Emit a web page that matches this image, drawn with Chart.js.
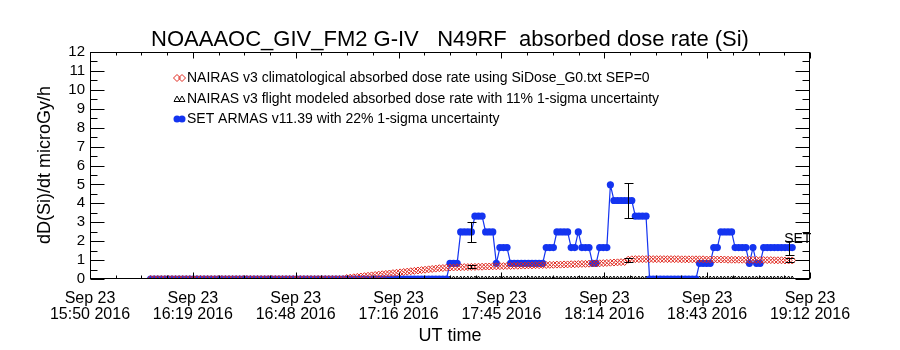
<!DOCTYPE html>
<html>
<head>
<meta charset="utf-8">
<script src="https://cdn.jsdelivr.net/npm/chart.js@4.4.1/dist/chart.umd.min.js"></script>
<style>html,body{margin:0;padding:0;background:#fff}</style>
</head>
<body>
<canvas id="c" width="900" height="350"></canvas>
<script>
const TITLE = 'NOAAAOC_GIV_FM2 G-IV   N49RF  absorbed dose rate (Si)';
const Y_TITLE = 'dD(Si)/dt microGy/h';
const X_TITLE = 'UT time';
const xTickLabels = [
  ['Sep 23','15:50 2016'], ['Sep 23','16:19 2016'], ['Sep 23','16:48 2016'], ['Sep 23','17:16 2016'],
  ['Sep 23','17:45 2016'], ['Sep 23','18:14 2016'], ['Sep 23','18:43 2016'], ['Sep 23','19:12 2016']
];
const X_SPAN = 202;      // minutes, 15:50 -> 19:12
const START_MIN = 17;    // first sample (minutes after 15:50), one sample per minute
const legendTexts = [
  'NAIRAS v3 climatological absorbed dose rate using SiDose_G0.txt SEP=0',
  'NAIRAS v3 flight modeled absorbed dose rate with 11% 1-sigma uncertainty',
  'SET ARMAS v11.39 with 22% 1-sigma uncertainty'
];

// NAIRAS climatological (microGy/h)
const climatological = [
  0,0,0,0,0,0,0,0,0,0, 0,0,0,0,0,0,0,0,0,0,
  0,0,0,0,0,0,0,0,0,0, 0,0,0,0,0,0,0,0,0,0,
  0,0,0,0,0,0,0,0,0,0, 0,0,0,0,0,0.05,
  0.07,0.09,0.11,0.13,0.15,0.17,0.19,0.21,
  0.23,0.25,0.27,0.29,0.31,0.33,0.35,0.37,0.39,0.41,
  0.43,0.45,0.47,0.49,0.51,0.53,0.55,0.57,0.58,0.60,
  0.61,0.61,0.62,0.62,0.63,0.63,0.64,0.64,0.65,0.65,
  0.66,0.66,0.67,0.67,0.68,0.68,0.69,0.69,0.70,0.70,
  0.71,0.71,0.72,0.72,0.73,0.73,0.74,0.74,0.75,0.75,
  0.76,0.76,0.77,0.77,0.78,0.78,0.79,0.80,0.80,0.81,
  0.82,0.82,0.83,0.84,0.85,0.86,0.87,0.88,0.89,0.90,
  1.02,1.04,1.05,1.05,1.05,1.05,1.05,1.05,1.05,1.05,
  1.05,1.05,1.05,1.05,1.05,1.04,1.04,1.04,1.04,1.04,
  1.04,1.04,1.03,1.03,1.03,1.03,1.03,1.03,1.02,1.02,
  1.02,1.02,1.02,1.01,1.01,1.01,1.01,1.00,1.00,1.00,
  1.00,0.99,0.99,0.99,0.98,0.98,0.98
];

// SET ARMAS measured (microGy/h)
const setArmas = [
  0,0,0,0,0,0,0,0,0,0, 0,0,0,0,0,0,0,0,0,0,
  0,0,0,0,0,0,0,0,0,0, 0,0,0,0,0,0,0,0,0,0,
  0,0,0,0,0,0,0,0,0,0, 0,0,0,0,0,0,0,0,0,0,
  0,0,0,0,0,0,0,0,0,0, 0,0,0,0,0,0,0,0,0,0,
  0,0,0,0,
  0.83,0.83,0.83, 2.49,2.49,2.49,2.49, 3.32,3.32,3.32, 2.49,2.49,2.49, 0.83,
  1.66,1.66,1.66, 0.83,0.83,0.83,0.83,0.83,0.83,0.83,0.83,0.83,0.83,
  1.66,1.66,1.66, 2.49,2.49,2.49,2.49, 1.66,1.66, 2.49, 1.66,1.66,1.66,
  0.83,0.83, 1.66,1.66,1.66, 4.98, 4.15,4.15,4.15,4.15,4.15,4.15, 3.32,3.32,3.32,3.32,
  0,0,0,0,0,0,0,0,0,0,0,0,0,0,
  0.83,0.83,0.83,0.83, 1.66,1.66, 2.49,2.49,2.49,2.49, 1.66,1.66,1.66,1.66,
  0.83, 1.66, 0.83,0.83, 1.66,1.66,1.66,1.66,1.66,1.66,1.66,1.66,1.66
];

// NAIRAS flight modeled along track (not computed -> 0)
const flightModeled = [
  0,0,0,0,0,0,0,0,0,0, 0,0,0,0,0,0,0,0,0,0,
  0,0,0,0,0,0,0,0,0,0, 0,0,0,0,0,0,0,0,0,0,
  0,0,0,0,0,0,0,0,0,0, 0,0,0,0,0,0,0,0,0,0,
  0,0,0,0,0,0,0,0,0,0, 0,0,0,0,0,0,0,0,0,0,
  0,0,0,0,0,0,0,0,0,0, 0,0,0,0,0,0,0,0,0,0,
  0,0,0,0,0,0,0,0,0,0, 0,0,0,0,0,0,0,0,0,0,
  0,0,0,0,0,0,0,0,0,0, 0,0,0,0,0,0,0,0,0,0,
  0,0,0,0,0,0,0,0,0,0, 0,0,0,0,0,0,0,0,0,0,
  0,0,0,0,0,0,0,0,0,0, 0,0,0,0,0,0,0,0,0,0,
  0
];

// points with uncertainty bars
const errMinutes  = [107, 151, 196];
const setAtErr    = [2.49, 4.15, 1.66];
const flightAtErr = [0.68, 1.00, 1.00];
const SET_SIGMA = 0.22, FLIGHT_SIGMA = 0.11;

const minutes = setArmas.map((_, i) => START_MIN + i);
const FONT = '"Liberation Sans", Arial, sans-serif';
const RED = '#e0281e', BLUE = '#1434f0';

const idlFrame = {
  id: 'idlFrame',
  afterDatasetsDraw(chart){
    const {ctx, chartArea:a, scales:{x, y}} = chart;
    ctx.save();
    ctx.strokeStyle = '#000'; ctx.lineWidth = 1;
    // error bars
    const bar = (m, v, s) => {
      const px = Math.round(x.getPixelForValue(m)) + 0.5;
      const t = Math.round(y.getPixelForValue(v*(1+s))) + 0.5;
      const b = Math.round(y.getPixelForValue(v*(1-s))) + 0.5;
      ctx.beginPath();
      ctx.moveTo(px, t); ctx.lineTo(px, b);
      ctx.moveTo(px-4, t); ctx.lineTo(px+5, t);
      ctx.moveTo(px-4, b); ctx.lineTo(px+5, b);
      ctx.stroke();
    };
    errMinutes.forEach((m, i) => { bar(m, setAtErr[i], SET_SIGMA); bar(m, flightAtErr[i], FLIGHT_SIGMA); });
    // SET label near last point
    const lm = minutes[minutes.length-1], lv = setArmas[setArmas.length-1];
    ctx.fillStyle = '#000'; ctx.font = '14px ' + FONT; ctx.textBaseline = 'alphabetic';
    ctx.fillText('SET', x.getPixelForValue(lm) - 8, y.getPixelForValue(lv) - 5);
    // frame
    const L = a.left + 0.5, R = a.right - 0.5, T = a.top + 0.5, B = a.bottom - 0.5;
    ctx.strokeRect(L, T, R - L, B - T);
    ctx.beginPath();
    for (let v = 0; v <= 12; v += 0.5) {
      const py = Math.round(y.getPixelForValue(v)) + 0.5;
      const len = Number.isInteger(v) ? 14 : 7;
      ctx.moveTo(L, py); ctx.lineTo(L + len, py);
      ctx.moveTo(R, py); ctx.lineTo(R - len, py);
    }
    const step = X_SPAN / (xTickLabels.length - 1) / 4;
    for (let k = 0; k <= (xTickLabels.length - 1) * 4; k++) {
      const px = Math.round(x.getPixelForValue(k*step)) + 0.5;
      const len = k % 4 === 0 ? 6 : 3;
      ctx.moveTo(px, B); ctx.lineTo(px, B - len);
      ctx.moveTo(px, T); ctx.lineTo(px, T + len);
    }
    ctx.stroke();
    ctx.restore();
  },
  afterDraw(chart){
    const {ctx} = chart;
    ctx.save();
    ctx.fillStyle = '#000';
    ctx.textAlign = 'center'; ctx.textBaseline = 'middle';
    ctx.font = '22px ' + FONT;
    ctx.fillText(TITLE, 450, 40);
    ctx.font = '18px ' + FONT;
    ctx.fillText(X_TITLE, 450, 336);
    ctx.save();
    ctx.translate(45, 165); ctx.rotate(-Math.PI/2);
    ctx.fillText(Y_TITLE, 0, 0);
    ctx.restore();
    // legend
    ctx.font = '14px ' + FONT; ctx.textAlign = 'left';
    const ly = [78, 99, 119];
    legendTexts.forEach((t, i) => ctx.fillText(t, 187, ly[i]));
    ctx.lineWidth = 1;
    [177, 182].forEach(cx => {
      ctx.strokeStyle = RED;
      ctx.beginPath();
      ctx.moveTo(cx-3.5, ly[0]); ctx.lineTo(cx, ly[0]-3.5); ctx.lineTo(cx+3.5, ly[0]); ctx.lineTo(cx, ly[0]+3.5); ctx.closePath();
      ctx.stroke();
      ctx.strokeStyle = '#000';
      ctx.beginPath();
      ctx.moveTo(cx-3, ly[1]+2.5); ctx.lineTo(cx, ly[1]-3); ctx.lineTo(cx+3, ly[1]+2.5); ctx.closePath();
      ctx.stroke();
      ctx.fillStyle = BLUE;
      ctx.beginPath(); ctx.arc(cx, ly[2], 3.5, 0, Math.PI*2); ctx.fill();
    });
    ctx.restore();
  }
};

new Chart(document.getElementById('c'), {
  type: 'line',
  data: {
    labels: minutes,
    datasets: [
      { label: 'climatological', data: climatological, showLine: false, pointStyle: 'rectRot',
        pointRadius: 3.5, pointBorderColor: RED, pointBackgroundColor: 'rgba(0,0,0,0)', pointBorderWidth: 1,
        order: 0, clip: 0 },
      { label: 'SET', data: setArmas, borderColor: BLUE, borderWidth: 1.2, pointStyle: 'circle',
        pointRadius: 3.6, pointBackgroundColor: BLUE, pointBorderWidth: 0, order: 1, clip: 0 },
      { label: 'flight', data: flightModeled, showLine: false, pointStyle: 'triangle', pointRadius: 3,
        pointBorderColor: '#000', pointBackgroundColor: 'rgba(0,0,0,0)', pointBorderWidth: 1, order: 2, clip: 0 }
    ]
  },
  options: {
    responsive: false, animation: false, devicePixelRatio: 1, events: [],
    layout: { padding: { top: 52, right: 90, left: 0, bottom: 0 } },
    plugins: { legend: { display: false }, tooltip: { enabled: false } },
    scales: {
      x: {
        type: 'linear', min: 0, max: X_SPAN,
        grid: { display: false, drawTicks: false }, border: { display: false },
        afterBuildTicks: s => { s.ticks = xTickLabels.map((_, i) => ({ value: i * X_SPAN / (xTickLabels.length - 1) })); },
        afterFit: s => { s.height = 71; },
        ticks: { autoSkip: false, maxRotation: 0, padding: 12, color: '#000',
          font: { family: FONT, size: 16, lineHeight: 1.0 },
          callback: (v, i) => xTickLabels[i] }
      },
      y: {
        min: 0, max: 12,
        grid: { display: false, drawTicks: false }, border: { display: false },
        afterFit: s => { s.width = 90; },
        ticks: { stepSize: 1, autoSkip: false, padding: 5, color: '#000', font: { family: FONT, size: 15 } }
      }
    }
  },
  plugins: [idlFrame]
});
</script>
</body>
</html>
